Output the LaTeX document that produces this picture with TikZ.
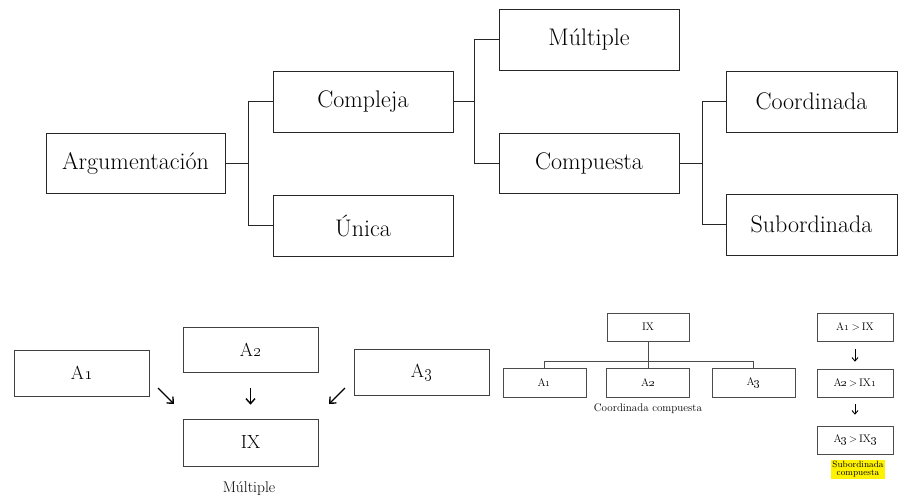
\documentclass[tikz,border=0pt]{standalone}
\usetikzlibrary{arrows.meta}
\begin{document}
\begin{tikzpicture}[x=1pt,y=-1pt,
  bigbox/.style={draw=black!85, line width=0.9pt, minimum width=180pt, minimum height=61pt, inner sep=0pt, font=\fontsize{24}{28}\selectfont},
  midbox/.style={draw=black!75, line width=0.7pt, minimum width=135pt, minimum height=46pt, inner sep=0pt, font=\fontsize{19}{22}\selectfont},
  smallbox/.style={draw=black!70, line width=0.55pt, minimum width=83pt, minimum height=29pt, inner sep=0pt, font=\fontsize{11}{13}\selectfont},
  link/.style={draw=black!85, line width=0.9pt},
  thinlink/.style={draw=black!70, line width=0.55pt},
  arr/.style={draw=black, line width=1.4pt, -{Straight Barb[length=5pt,width=9pt]}},
  arrs/.style={draw=black, line width=0.9pt, -{Straight Barb[length=3.5pt,width=6pt]}},
  lbl/.style={inner sep=0pt}
]
\useasboundingbox (0,0) rectangle (898,501);

% ---- top tree ----
\node[bigbox, minimum width=179pt, minimum height=60pt] (arg) at (135.5,163) {Argumentación};
\node[bigbox] (compl) at (363,101.5) {Compleja};
\node[bigbox] (unica) at (363,225.5) {Única};
\node[bigbox] (mult) at (589,39.5) {Múltiple};
\node[bigbox, minimum height=60pt] (compu) at (589,163) {Compuesta};
\node[bigbox, minimum width=171pt] (coord) at (811.5,101.5) {Coordinada};
\node[bigbox, minimum width=171pt] (subord) at (811.5,224.5) {Subordinada};

\draw[link] (arg.east) -- ++(24,0);
\draw[link] (compl.west) -- ++(-24,0) |- (unica.west);
\draw[link] (compl.east) -- ++(22,0);
\draw[link] (mult.west) -- ++(-24,0) |- (compu.west);
\draw[link] (compu.east) -- ++(24,0);
\draw[link] (coord.west) -- ++(-23,0) |- (subord.west);

% ---- bottom left: Multiple ----
\node[midbox] (a1) at (81.5,373) {A\oldstylenums{1}};
\node[midbox, minimum height=45pt] (a2) at (250.5,349.5) {A\oldstylenums{2}};
\node[midbox] (a3) at (421.5,372) {A\oldstylenums{3}};
\node[midbox, minimum height=47pt] (ix) at (250.5,442.5) {IX};
\node[lbl, font=\fontsize{15.5}{18}\selectfont] (lm) at (249,489) {Múltiple};

\coordinate (p1) at (158,388);
\coordinate (q1) at (174,404);
\coordinate (p3) at (345,388);
\coordinate (q3) at (329,404);
\draw[arr] (p1) -- (q1);
\draw[arr, shorten <=16pt, shorten >=14pt] (a2) -- (ix);
\draw[arr] (p3) -- (q3);

% ---- bottom middle: Coordinada compuesta ----
\node[smallbox, minimum width=82pt, minimum height=28pt] (cix) at (648,327) {IX};
\node[smallbox] (c1) at (544.5,382.5) {A\oldstylenums{1}};
\node[smallbox] (c2) at (648,382.5) {A\oldstylenums{2}};
\node[smallbox] (c3) at (753.5,382.5) {A\oldstylenums{3}};
\coordinate (cj) at (648,361);
\draw[thinlink] (cix.south) -- (c2.north);
\draw[thinlink] (c1.north) -- (c1.north |- cj) -- (c3.north |- cj) -- (c3.north);
\node[lbl, font=\fontsize{11}{13}\selectfont] (lcc) at (648,409) {Coordinada compuesta};

% ---- bottom right: Subordinada compuesta ----
\node[smallbox, minimum width=76pt, minimum height=28pt] (s1) at (855,327) {A\oldstylenums{1}\,>\,IX};
\node[smallbox, minimum width=76pt, minimum height=28pt] (s2) at (855,383) {A\oldstylenums{2}\,>\,IX\oldstylenums{1}};
\node[smallbox, minimum width=76pt, minimum height=28pt] (s3) at (855,440) {A\oldstylenums{3}\,>\,IX\oldstylenums{3}};
\draw[arrs, shorten <=8pt, shorten >=7pt] (s1) -- (s2);
\draw[arrs, shorten <=7pt, shorten >=11pt] (s2) -- (s3);
\node[fill=yellow, inner sep=1pt, align=center, font=\fontsize{9}{8}\selectfont] (lsc) at (858,469.5) {Subordinada\\compuesta};
\end{tikzpicture}
\end{document}
